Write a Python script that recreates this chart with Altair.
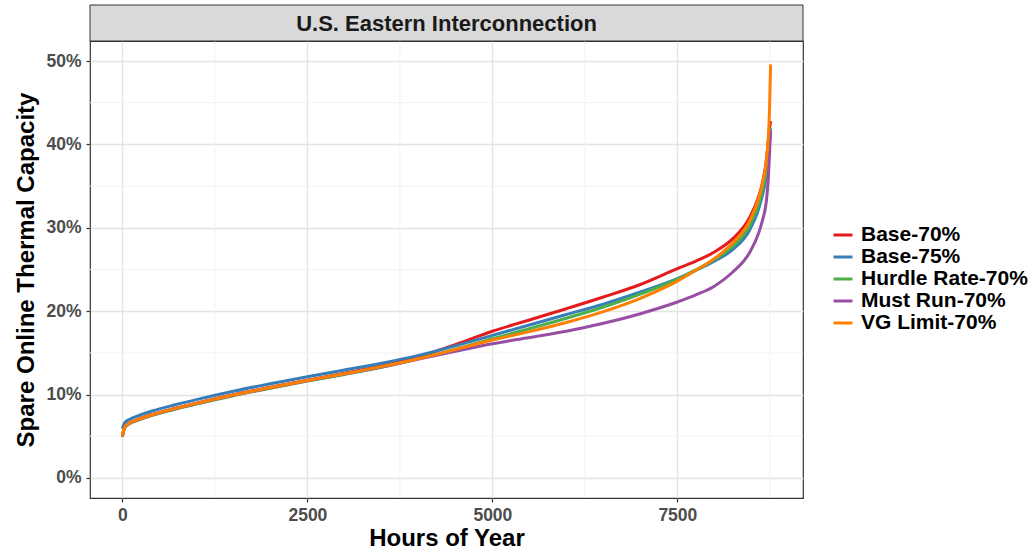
import altair as alt
import pandas as pd

hours = [0, 30, 100, 200, 400, 700, 1000, 1500, 2000, 2500, 3000, 3500, 4000, 4500,
         5000, 5500, 6000, 6500, 7000, 7500, 7750, 8000, 8250, 8475, 8600, 8650, 8700, 8730, 8745, 8760]

base70 = [5.03, 6.13, 6.63, 7.0, 7.61, 8.33, 8.98, 9.98, 10.88, 11.73, 12.55, 13.42, 14.55, 16.0,
          17.6, 18.95, 20.3, 21.7, 23.2, 25.1, 26.0, 27.1, 28.7, 31.2, 33.8, 35.4, 37.9, 40.5, 41.8, 42.8]
base75 = [5.9, 6.6, 7.05, 7.42, 8.03, 8.75, 9.4, 10.4, 11.3, 12.15, 12.95, 13.75, 14.7, 15.85,
          17.1, 18.35, 19.6, 20.85, 22.3, 23.9, 24.9, 26.0, 27.4, 29.7, 32.3, 33.9, 36.1, 38.6, 40.3, 41.5]
hurdle70 = [4.92, 6.02, 6.52, 6.89, 7.5, 8.22, 8.87, 9.87, 10.77, 11.62, 12.42, 13.27, 14.3, 15.45,
            16.7, 17.9, 19.15, 20.5, 22.05, 23.85, 24.95, 26.2, 27.8, 30.2, 32.9, 34.5, 36.9, 39.4, 41.0, 42.0]
mustrun70 = [4.97, 6.07, 6.57, 6.94, 7.55, 8.27, 8.92, 9.92, 10.82, 11.67, 12.47, 13.32, 14.25, 15.2,
             16.1, 16.85, 17.6, 18.55, 19.7, 21.1, 21.95, 23.0, 24.7, 27.0, 29.4, 30.9, 33.0, 36.0, 38.8, 41.7]
vglimit70 = [5.0, 6.1, 6.6, 6.97, 7.58, 8.3, 8.95, 9.95, 10.85, 11.7, 12.5, 13.35, 14.3, 15.4,
             16.55, 17.55, 18.65, 19.95, 21.55, 23.6, 24.9, 26.3, 28.2, 30.8, 33.6, 35.3, 37.8, 41.0, 44.0, 49.6]

series_names = ["Base-70%", "Base-75%", "Hurdle Rate-70%", "Must Run-70%", "VG Limit-70%"]
series_values = [base70, base75, hurdle70, mustrun70, vglimit70]
colors = ["#E41A1C", "#377EB8", "#4DAF4A", "#984EA3", "#FF7F00"]

x_ticks = [0, 2500, 5000, 7500]
y_ticks = [0, 10, 20, 30, 40, 50]
minor_x = [1250, 3750, 6250, 8750]
minor_y = [5, 15, 25, 35, 45]

rows = []
for si, (name, vals) in enumerate(zip(series_names, series_values)):
    for h, v in zip(hours, vals):
        rows.append({"series": name, "hour": h, "value": v, "ord": si})
df = pd.DataFrame(rows)

W, H = 713, 457
FONT = "Liberation Sans"

xscale = alt.Scale(domain=[-438, 9198], nice=False, zero=False)
yscale = alt.Scale(domain=[-2.4, 52.4], nice=False, zero=False)

minor_v = alt.Chart(pd.DataFrame({"h": minor_x})).mark_rule(color="#F2F2F2", strokeWidth=1).encode(
    x=alt.X("h:Q", scale=xscale)
)
minor_h = alt.Chart(pd.DataFrame({"v": minor_y})).mark_rule(color="#F2F2F2", strokeWidth=1).encode(
    y=alt.Y("v:Q", scale=yscale)
)

lines = alt.Chart(df).mark_line(strokeWidth=3, interpolate="monotone", clip=True).encode(
    x=alt.X("hour:Q", scale=xscale,
            axis=alt.Axis(values=x_ticks, title="Hours of Year", grid=True, gridColor="#E3E3E3",
                          gridWidth=1.3, format="d", labelPadding=4, titlePadding=3)),
    y=alt.Y("value:Q", scale=yscale,
            axis=alt.Axis(values=y_ticks, title="Spare Online Thermal Capacity", grid=True,
                          gridColor="#E3E3E3", gridWidth=1.3, labelExpr="datum.value + '%'",
                          labelPadding=5, titlePadding=7)),
    color=alt.Color("series:N", scale=alt.Scale(domain=series_names, range=colors),
                    legend=alt.Legend(title=None, orient="none", legendX=742, legendY=183,
                                      labelLimit=400)),
    order=alt.Order("ord:Q"),
    detail="series:N",
)

strip = alt.Chart(alt.Data(values=[{}])).mark_rect(fill="#D9D9D9", stroke="#333333", strokeWidth=1).encode(
    x=alt.value(0), x2=alt.value(W), y=alt.value(-36), y2=alt.value(0)
)
strip_text = alt.Chart(alt.Data(values=[{}])).mark_text(
    text="U.S. Eastern Interconnection", font=FONT, fontSize=22, fontWeight="bold",
    color="#1A1A1A", align="center", baseline="middle"
).encode(x=alt.value(W / 2), y=alt.value(-17))

chart = alt.layer(minor_v, minor_h, lines, strip, strip_text).properties(
    width=W, height=H,
    autosize=alt.AutoSizeParams(type="none"),
    padding={"left": 90, "top": 41, "right": 1035 - 90 - W, "bottom": 556 - 41 - H},
).configure_view(
    stroke="#333333", strokeWidth=1.2
).configure_axis(
    labelFont=FONT, labelFontSize=17.5, labelFontWeight="bold", labelColor="#4D4D4D",
    titleFont=FONT, titleFontSize=24, titleFontWeight="bold", titleColor="#000000",
    tickColor="#333333", tickSize=4, tickWidth=1.2, domain=False,
).configure_legend(
    labelFont=FONT, labelFontSize=21, labelFontWeight="bold", labelColor="#000000",
    symbolType="stroke", symbolStrokeWidth=3, symbolSize=360, rowPadding=1,
    labelOffset=7, symbolOffset=0, labelLimit=400,
)

chart.save("out.html", embed_options={"renderer": "svg", "actions": False})
